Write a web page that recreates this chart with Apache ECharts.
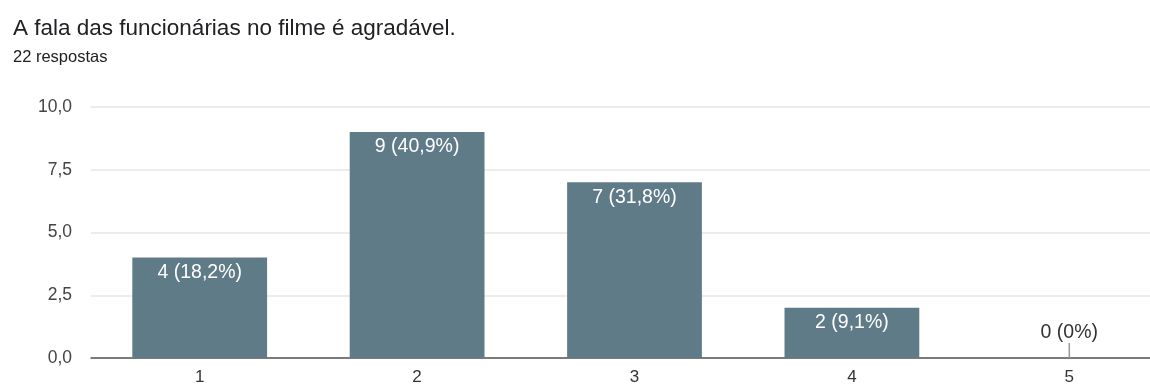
<!DOCTYPE html>
<html>
<head>
<meta charset="utf-8">
<script src="https://cdn.jsdelivr.net/npm/echarts@6/dist/echarts.min.js"></script>
<style>
  html, body { margin: 0; padding: 0; background: #fff; }
  #grafico { width: 1150px; height: 385px; }
</style>
</head>
<body>
<div id="grafico"></div>
<script>
// dados
const categorias = ['1', '2', '3', '4', '5'];
const respostas = [4, 9, 7, 2, 0];
const rotulos = ['4 (18,2%)', '9 (40,9%)', '7 (31,8%)', '2 (9,1%)', '0 (0%)'];
const titulo = 'A fala das funcionárias no filme é agradável.';
const subtitulo = '22 respostas';

const FONTE = '"Liberation Sans", Arial, sans-serif';
const BARRA = '#607b88';

const chart = echarts.init(document.getElementById('grafico'), null, { renderer: 'canvas' });

chart.setOption({
  backgroundColor: '#fff',
  animation: false,
  title: {
    text: titulo, subtext: subtitulo,
    left: 8, top: 12, itemGap: 9,
    textStyle: { color: '#202124', fontSize: 22.5, fontWeight: 'normal', fontFamily: FONTE },
    subtextStyle: { color: '#202124', fontSize: 16.5, fontFamily: FONTE }
  },
  // a área do gráfico passa da borda direita, como na imagem original
  grid: { left: 91, top: 107, width: 1087, height: 251, outerBoundsMode: 'none' },
  xAxis: {
    type: 'category', data: categorias,
    axisLine: { lineStyle: { color: '#555', width: 1.5 } },
    axisTick: { show: false },
    axisLabel: { color: '#333', fontSize: 17, fontFamily: FONTE, margin: 11 }
  },
  yAxis: {
    type: 'value', min: 0, max: 10, interval: 2.5,
    axisLabel: { color: '#444', fontSize: 17.5, fontFamily: FONTE, margin: 19,
                 formatter: (v) => v.toFixed(1).replace('.', ',') },
    splitLine: { lineStyle: { color: '#e6e6e6', width: 1.5 } }
  },
  series: [{
    type: 'bar', barWidth: '62%',
    itemStyle: { color: BARRA },
    data: respostas.map((v) => {
      const item = { value: v };
      if (v === 0) {
        // barra vazia: rótulo acima com um traço até o eixo
        item.label = { position: 'top', color: '#333', distance: 0 };
        item.labelLine = { show: true, lineStyle: { color: '#999', width: 1.5 } };
      }
      return item;
    }),
    label: {
      show: true, position: 'insideTop', distance: 5,
      color: '#fff', fontSize: 19.5, fontFamily: FONTE,
      formatter: (p) => rotulos[p.dataIndex]
    },
    labelLayout: (p) => (p.dataIndex === 4 ? { dy: -15 } : {})
  }]
});
</script>
</body>
</html>
